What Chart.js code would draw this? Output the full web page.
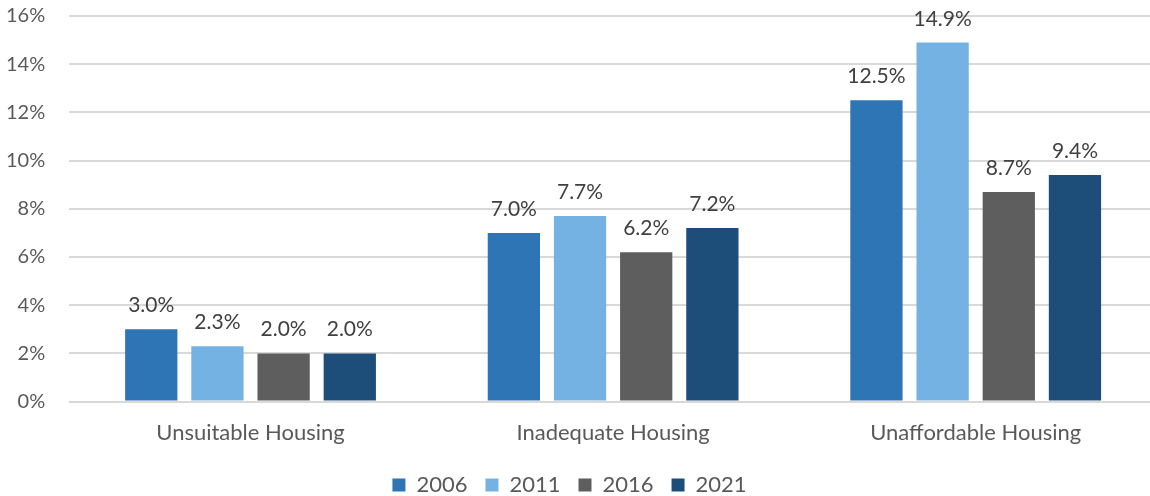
<!DOCTYPE html>
<html><head><meta charset="utf-8">
<script src="https://cdn.jsdelivr.net/npm/chart.js@4"></script>
<style>html,body{margin:0;padding:0;background:#fff;overflow:hidden}#wrap{width:1157px;height:496px}</style>
</head><body><div id="wrap"><canvas id="c"></canvas></div>
<script>
const categories = ["Unsuitable Housing", "Inadequate Housing", "Unaffordable Housing"];
const years = ["2006", "2011", "2016", "2021"];
const v2006 = [3.0, 7.0, 12.5];
const v2011 = [2.3, 7.7, 14.9];
const v2016 = [2.0, 6.2, 8.7];
const v2021 = [2.0, 7.2, 9.4];
const colors = ["#2E75B6", "#75B2E4", "#5E5E5E", "#1D4E7A"];
const series = [v2006, v2011, v2016, v2021];
const FONT = "Lato, sans-serif";

const labelPlugin = {
  id: 'vals',
  afterDatasetsDraw(chart) {
    const ctx = chart.ctx;
    ctx.save();
    ctx.font = "21px " + FONT;
    ctx.fillStyle = "#404040";
    ctx.textAlign = "center";
    ctx.textBaseline = "alphabetic";
    chart.data.datasets.forEach((ds, i) => {
      chart.getDatasetMeta(i).data.forEach((bar, j) => {
        ctx.fillText(ds.data[j].toFixed(1) + "%", bar.x, bar.y - 17);
      });
    });
    ctx.restore();
  }
};

new Chart(document.getElementById('c'), {
  type: 'bar',
  data: {
    labels: categories,
    datasets: series.map((d, i) => ({
      label: years[i], data: d, backgroundColor: colors[i],
      categoryPercentage: 0.73, barPercentage: 0.79
    }))
  },
  options: {
    responsive: true, maintainAspectRatio: false, animation: false,
    layout: { padding: { left: -18, right: 0, top: 0, bottom: -10 } },
    plugins: {
      legend: {
        position: 'bottom',
        labels: { font: { size: 22, family: FONT }, color: '#595959', boxWidth: 13, boxHeight: 13, padding: 18 }
      },
      tooltip: { enabled: false }
    },
    scales: {
      x: {
        grid: { display: false },
        border: { display: false },
        ticks: { font: { size: 22, family: FONT }, color: '#595959', padding: 10 }
      },
      y: {
        min: 0, max: 16,
        afterFit(s) { s.paddingTop = 16; },
        ticks: { stepSize: 2, callback: v => v + "%", font: { size: 20, family: FONT }, color: '#595959', padding: 24 },
        grid: { color: '#D9D9D9', lineWidth: 2, drawTicks: false },
        border: { display: false }
      }
    }
  },
  plugins: [labelPlugin]
});
</script></body></html>
